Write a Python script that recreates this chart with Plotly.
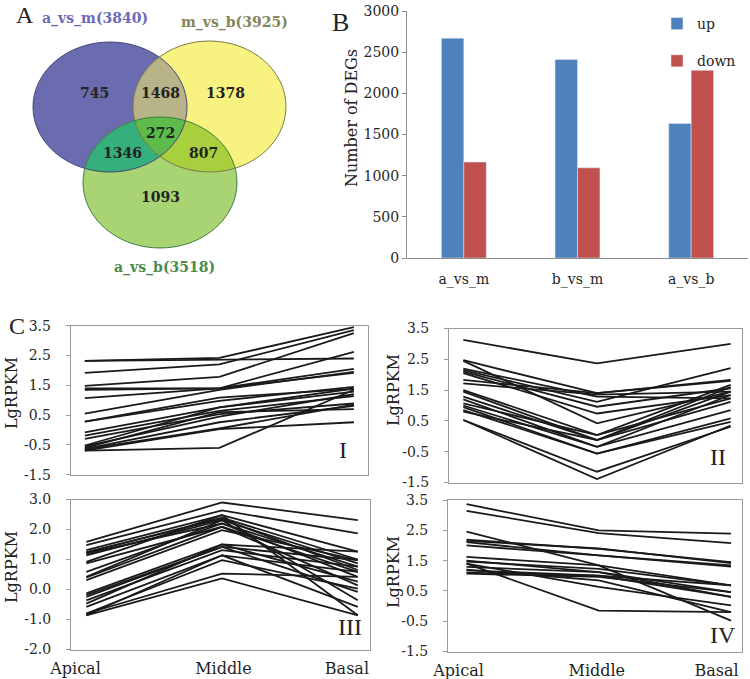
import numpy as np
import plotly.graph_objects as go

W, H = 750, 679

# ---------------- data ----------------
venn_set_labels = ["a_vs_m(3840)", "m_vs_b(3925)", "a_vs_b(3518)"]
venn_regions = ["a_vs_m only", "a_vs_m & m_vs_b", "m_vs_b only", "all three",
                "a_vs_m & a_vs_b", "m_vs_b & a_vs_b", "a_vs_b only"]
venn_counts = [745, 1468, 1378, 272, 1346, 807, 1093]

categories = ["a_vs_m", "b_vs_m", "a_vs_b"]
up_counts = [2670, 2410, 1635]
down_counts = [1165, 1095, 2280]

stages = ["Apical", "Middle", "Basal"]

cluster_I = [
    [2.32, 2.42, 3.45], [2.32, 2.35, 2.40], [1.92, 2.20, 3.35], [1.48, 1.78, 3.25],
    [1.07, 1.40, 2.62], [1.40, 1.40, 2.05], [1.35, 1.40, 1.92], [0.55, 1.35, 1.95],
    [0.28, 1.09, 1.38], [0.28, 0.98, 1.45], [-0.08, 0.76, 1.29], [-0.19, 0.64, 1.14],
    [-0.30, 0.53, 0.89], [-0.52, 0.76, 1.39], [-0.63, 0.26, 0.81], [-0.69, 0.03, 0.26],
    [-0.69, -0.60, 1.35], [-0.60, 0.60, 0.70], [-0.65, 0.05, 0.85], [-0.55, 0.45, 1.20],
]
cluster_II = [
    [3.13, 2.37, 3.00], [2.47, 1.40, 1.80], [2.45, 0.42, 1.45], [2.20, 1.29, 1.23],
    [2.15, 1.12, 2.21], [2.10, 0.96, 1.56], [2.05, 0.74, 1.34], [1.83, 1.40, 1.83],
    [1.72, 1.35, 1.45], [1.50, 0.04, 1.67], [1.45, -0.12, 1.12], [1.29, -0.12, 1.60],
    [1.20, -0.34, 0.85], [1.07, 0.04, 1.23], [0.95, -0.56, 0.58], [0.85, -0.56, 0.47],
    [0.80, -0.12, 1.45], [0.53, -1.15, 0.31], [0.53, -1.39, 0.35], [1.00, -0.34, 1.34],
]
cluster_III = [
    [1.59, 2.90, 2.31], [1.48, 2.64, 1.87], [1.31, 2.48, 1.26], [1.23, 2.39, 1.00],
    [1.14, 2.31, 0.87], [1.20, 2.20, 0.76], [0.92, 2.48, -0.86], [0.87, 2.09, 0.59],
    [0.59, 2.20, 0.42], [0.42, 2.31, -0.36], [0.31, 1.98, 0.98], [0.40, 2.09, 0.14],
    [-0.13, 1.50, 1.26], [-0.19, 1.42, 0.98], [-0.36, 1.31, 0.76], [-0.47, 1.50, 0.26],
    [-0.58, 1.14, 0.59], [-0.80, 0.98, 0.03], [-0.86, 1.14, -0.58], [-0.86, 0.37, -0.86],
    [-0.80, 0.53, 0.42], [-0.25, 1.42, -0.08], [1.25, 2.35, 0.65],
]
cluster_IV = [
    [3.36, 2.50, 2.39], [3.14, 2.41, 2.08], [2.46, 1.34, -0.48], [2.19, 1.89, 1.45],
    [2.11, 1.67, 1.34], [2.00, 1.67, 1.30], [1.62, 1.34, 0.68], [1.47, 1.23, 0.68],
    [1.40, -0.15, -0.20], [1.29, 1.12, 0.46], [1.18, 1.00, 0.30], [1.07, 0.96, 0.46],
    [1.40, 0.63, 0.02], [1.20, 0.85, -0.20], [1.10, 1.00, 0.68], [1.50, 1.12, 0.30],
    [2.15, 1.90, 1.42],
]
cluster_names = ["I", "II", "III", "IV"]

# ---------------- helpers ----------------
def px(x):
    return x / W

def py(y):
    return 1 - y / H

SERIF = "DejaVu Serif"
TXT = "#262626"

fig = go.Figure()

# ---------------- panel B: bars ----------------
fig.add_trace(go.Bar(x=categories, y=up_counts, name="up", marker_color="#4f81bd",
                     legendgroup="up", xaxis="x", yaxis="y"))
fig.add_trace(go.Bar(x=categories, y=down_counts, name="down", marker_color="#c0504d",
                     legendgroup="down", xaxis="x", yaxis="y"))

# ---------------- panel C: line clusters ----------------
stage_pos = list(range(len(stages)))
clusters = [cluster_I, cluster_II, cluster_III, cluster_IV]
for k, cl in enumerate(clusters):
    ax = str(k + 2)
    for row in cl:
        fig.add_trace(go.Scatter(x=stage_pos, y=row, mode="lines",
                                 line=dict(color="#1a1a1a", width=1.8),
                                 xaxis="x" + ax, yaxis="y" + ax,
                                 showlegend=False, hoverinfo="skip"))

# full-figure overlay axis used for placing text in pixel units
fig.add_trace(go.Scatter(x=[], y=[], xaxis="x6", yaxis="y6", showlegend=False,
                         hoverinfo="skip"))

# ---------------- axes ----------------
tickfont = dict(family=SERIF, size=14, color=TXT)
layout_axes = {}
layout_axes["xaxis"] = dict(domain=[px(407), px(748)], anchor="y", type="category",
                            range=[-0.5, 2.5], showline=True, linecolor="#8c8c8c",
                            ticks="", showgrid=False, tickfont=tickfont,
                            ticklabelstandoff=8, automargin=False)
layout_axes["yaxis"] = dict(domain=[py(258), py(11)], anchor="x", range=[0, 3000],
                            dtick=500, showline=True, linecolor="#8c8c8c",
                            ticks="outside", ticklen=4, tickcolor="#8c8c8c",
                            showgrid=False, zeroline=False, tickfont=tickfont,
                            automargin=False)

panel_boxes = [
    # x0, x1, ybottom(px), ytop(px), yrange, xrange, label tick positions
    (70.7, 368, 474.7, 325.7, [-1.5, 3.5], [-0.105, 2.105], None),
    (449, 742, 482.5, 328.5, [-1.5, 3.5], [-0.107, 2.085], None),
    (71, 370, 649.5, 499.5, [-2.0, 3.0], [-0.113, 2.09], [-0.08, 1.01, 1.92]),
    (448, 742, 651.5, 500, [-1.5, 3.5], [-0.14, 2.083], [-0.06, 0.985, 1.89]),
]
for k, (x0, x1, yb, yt, yr, xr, lab_pos) in enumerate(panel_boxes):
    ax = str(k + 2)
    if yr[0] == -2.0:
        tv = [-2.0, -1.0, 0.0, 1.0, 2.0, 3.0]
        tt = ["-2.0", "-1.0", "0.0", "1.0", "2.0", "3.0"]
    else:
        tv = [-1.5, -0.5, 0.5, 1.5, 2.5, 3.5]
        tt = ["-1.5", "-0.5", "0.5", "1.5", "2.5", "3.5"]
    xa = dict(domain=[px(x0), px(x1)], anchor="y" + ax, range=xr, showline=True,
              mirror=True, linecolor="#9a9a9a", ticks="", showgrid=False,
              zeroline=False, automargin=False,
              tickfont=dict(family=SERIF, size=16, color="#1f1f1f"),
              ticklabelstandoff=4)
    if lab_pos is None:
        xa["showticklabels"] = False
    else:
        xa["tickvals"] = lab_pos
        xa["ticktext"] = stages
    layout_axes["xaxis" + ax] = xa
    layout_axes["yaxis" + ax] = dict(domain=[py(yb), py(yt)], anchor="x" + ax, range=yr,
                                     tickvals=tv, ticktext=tt, showline=True, mirror=True,
                                     linecolor="#9a9a9a", ticks="outside", ticklen=4,
                                     tickcolor="#9a9a9a", showgrid=False, zeroline=False,
                                     tickfont=tickfont, ticklabelstandoff=12,
                                     automargin=False)

layout_axes["xaxis6"] = dict(domain=[0, 1], range=[0, W], visible=False, anchor="y6",
                             fixedrange=True, automargin=False)
layout_axes["yaxis6"] = dict(domain=[0, 1], range=[H, 0], visible=False, anchor="x6",
                             fixedrange=True, automargin=False)

# ---------------- panel A: Venn ----------------
ellipses = [  # cx, cy, rx, ry in pixels
    (110, 107, 77, 65),
    (209.5, 106.5, 76.5, 65.5),
    (160, 182.5, 77, 65.5),
]
base_cols = ["#6b6bb0", "#f8f380", "#a8d474"]
edge_cols = ["#45457a", "#7c7a44", "#3f7f3f"]

def ell_boundary(e, n=900):
    cx, cy, rx, ry = e
    t = np.linspace(0, 2 * np.pi, n, endpoint=False)
    return np.c_[cx + rx * np.cos(t), cy + ry * np.sin(t)]

def inside(p, e):
    cx, cy, rx, ry = e
    return ((p[:, 0] - cx) / rx) ** 2 + ((p[:, 1] - cy) / ry) ** 2 <= 1 + 1e-9

def intersection_path(idx):
    es = [ellipses[i] for i in idx]
    pts = []
    for i, e in enumerate(es):
        b = ell_boundary(e)
        m = np.ones(len(b), bool)
        for j, f in enumerate(es):
            if j != i:
                m &= inside(b, f)
        pts.append(b[m])
    P = np.vstack(pts)
    c = P.mean(axis=0)
    ang = np.arctan2(P[:, 1] - c[1], P[:, 0] - c[0])
    P = P[np.argsort(ang)]
    return "M " + " L ".join(f"{px(x):.5f},{py(y):.5f}" for x, y in P) + " Z"

shapes = []
for e, col in zip(ellipses, base_cols):
    cx, cy, rx, ry = e
    shapes.append(dict(type="circle", xref="paper", yref="paper",
                       x0=px(cx - rx), x1=px(cx + rx), y0=py(cy + ry), y1=py(cy - ry),
                       fillcolor=col, line=dict(width=0)))
for idx, col in [((0, 1), "#b8b388"), ((0, 2), "#35b07c"), ((1, 2), "#a8cf3e"),
                 ((0, 1, 2), "#5cbb4a")]:
    shapes.append(dict(type="path", xref="paper", yref="paper", path=intersection_path(idx),
                       fillcolor=col, line=dict(width=0)))
for e, col in zip(ellipses, edge_cols):
    cx, cy, rx, ry = e
    shapes.append(dict(type="circle", xref="paper", yref="paper",
                       x0=px(cx - rx), x1=px(cx + rx), y0=py(cy + ry), y1=py(cy - ry),
                       line=dict(width=1, color=col)))

annotations = []

def ann(text, x, y, size=15, color=TXT, family=SERIF, angle=0, xanchor="center"):
    annotations.append(dict(text=text, x=x, y=y, xref="x6", yref="y6",
                            showarrow=False, textangle=angle, xanchor=xanchor,
                            yanchor="middle",
                            font=dict(family=family, size=size, color=color)))

venn_label_pos = [(95, 18), (234, 22), (164, 267)]
venn_label_cols = ["#6a6ab8", "#85855a", "#4a8a4a"]
for lab, (x, y), c in zip(venn_set_labels, venn_label_pos, venn_label_cols):
    ann("<b>" + lab + "</b>", x, y, size=14, color=c)

venn_count_pos = [(94, 93), (160, 93), (225, 93), (160, 133), (122, 153), (203, 153), (160, 197)]
for v, (x, y) in zip(venn_counts, venn_count_pos):
    ann("<b>" + str(v) + "</b>", x, y, size=14, color="#222")

# panel letters
ann("A", 25, 15, size=24, family="Liberation Serif", color="#222")
ann("B", 340, 22, size=26, family="Liberation Serif", color="#222")
ann("C", 17, 326, size=24, family="Liberation Serif", color="#222")

# axis titles
ann("Number of DEGs", 351, 118, size=16, angle=-90, color="#222")
for (x, y) in [(11, 393), (393, 390), (11, 567), (393, 572)]:
    ann("LgRPKM", x, y, size=16, angle=-90, color="#222")

# cluster numerals
for name, (x, y) in zip(cluster_names, [(343, 450), (718, 457), (350, 627), (723, 635)]):
    ann(name, x, y, size=24, family="Liberation Serif", color="#222")

fig.update_layout(
    width=W, height=H,
    margin=dict(l=0, r=0, t=0, b=0, autoexpand=False),
    paper_bgcolor="white", plot_bgcolor="rgba(0,0,0,0)",
    barmode="group", bargap=0.605, bargroupgap=0,
    showlegend=True,
    legend=dict(x=px(657), y=py(8), xanchor="left", yanchor="top",
                font=dict(family=SERIF, size=14, color=TXT),
                tracegroupgap=16, bgcolor="rgba(0,0,0,0)"),
    shapes=shapes, annotations=annotations,
    **layout_axes,
)

fig.write_html("out.html", config={"displayModeBar": False},
               post_script="document.body.style.margin='0px';"
                           "document.body.style.overflow='hidden';")
